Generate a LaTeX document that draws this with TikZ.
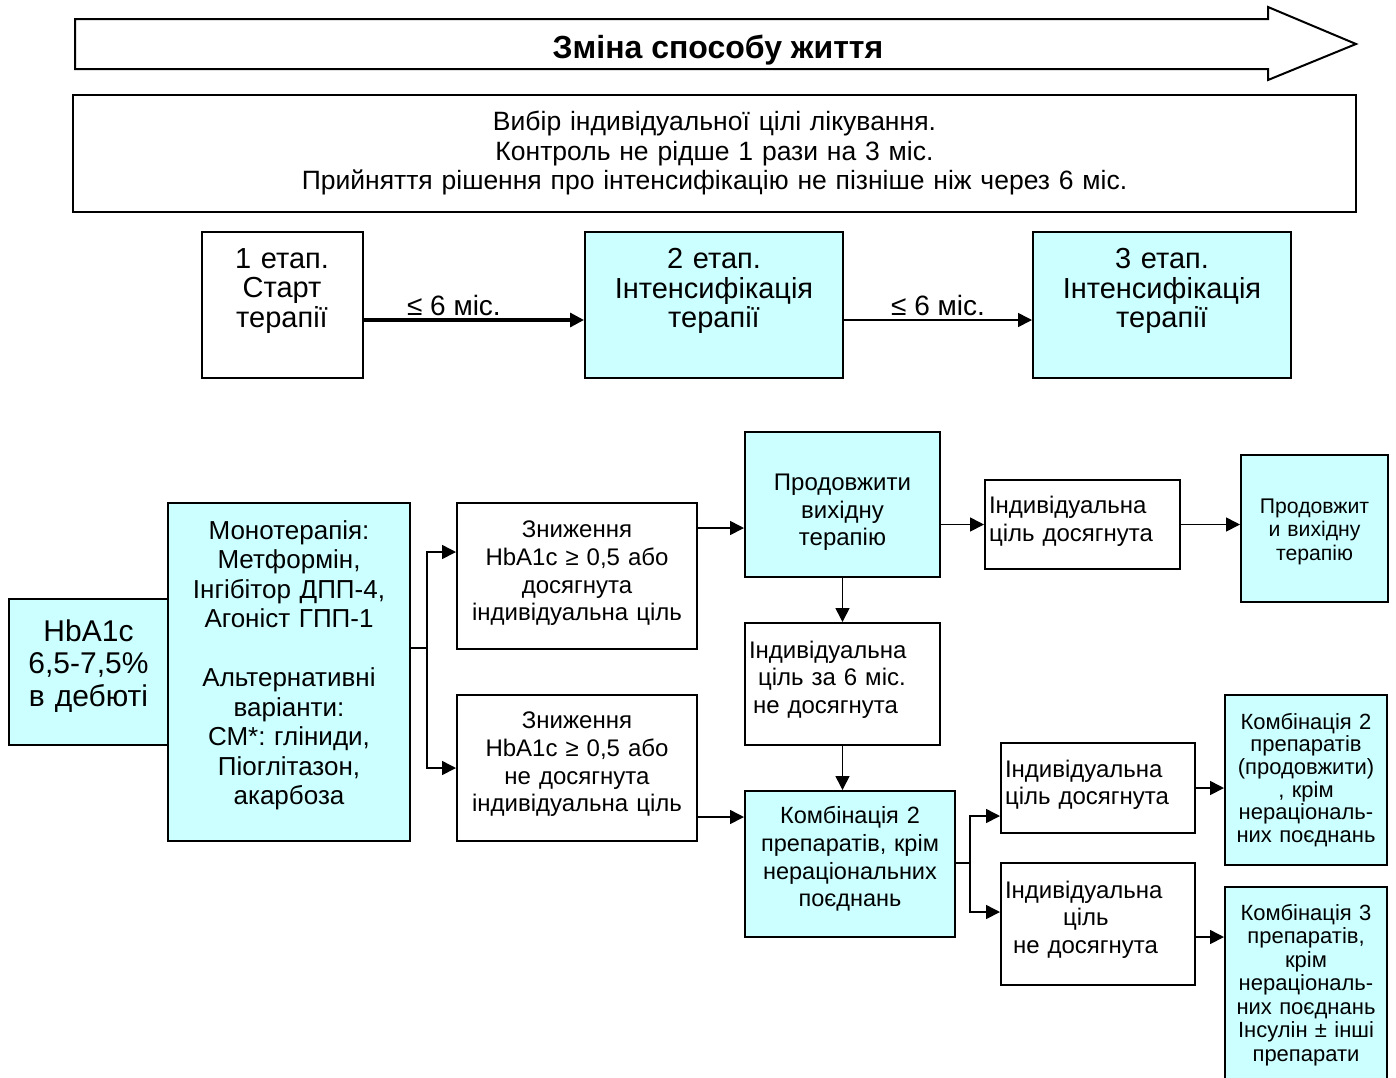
\documentclass[tikz,border=0pt]{standalone}
\usepackage{fontspec}
\setmainfont{Liberation Sans}
\frenchspacing
\usetikzlibrary{arrows.meta}
\definecolor{boxcyan}{HTML}{CCFFFF}
\begin{document}
\begin{tikzpicture}[x=0.5pt, y=-0.5pt,
        box/.style={draw, line width=1pt, inner sep=2pt, align=center},
        cbox/.style={box, fill=boxcyan},
        link/.style={line width=0.8pt, -{Triangle[length=7pt, width=7pt]}},
        fsize/.style 2 args={font=\fontsize{#1}{#2}\selectfont},
        nudge/.style={execute at end node={\endgraf\vspace*{#1}}}]
        \useasboundingbox (0,0) rectangle (1396,1077);
        \draw[line width=1pt] (75,19) -- (1268,19) -- (1268,7) -- (1356,44) -- (1268,80) -- (1268,69) -- (75,69) -- cycle;
        \node[font=\fontsize{16}{18}\selectfont\bfseries] (life) at (718,50) {Зміна способу життя};
        \node[box, fsize={13.25}{14.75}, text width=637.5pt, minimum height=58.5pt] (goal) at (714.5,153.5)
            {Вибір індивідуальної цілі лікування.\\Контроль не рідше 1 рази на 3 міс.\\Прийняття рішення про інтенсифікацію не пізніше ніж через 6 міс.};
        \node[box, fsize={14.5}{14.75}, text width=76.5pt, minimum height=73pt, nudge=14pt] (s1) at (282,305) {1 етап.\\Старт\\терапії};
        \node[cbox, fsize={14.5}{14.75}, text width=125pt, minimum height=73pt, nudge=14pt] (s2) at (714,305) {2 етап.\\Інтенсифікація\\терапії};
        \node[cbox, fsize={14.5}{14.75}, text width=125pt, minimum height=73pt, nudge=14pt] (s3) at (1162,305) {3 етап.\\Інтенсифікація\\терапії};
        \foreach \from/\to/\wid/\p in {s1/s2/1.6pt/0.41, s2/s3/0.8pt/0.5}
            \draw[link, line width=\wid] ([yshift=-7.5pt]\from.east) -- node[above, pos=\p, inner sep=1.5pt, fsize={14}{16}] {≤ 6 міс.} ([yshift=-7.5pt]\to.west);

        \node[cbox, fsize={15}{16.25}, text width=76pt, minimum height=73pt, nudge=6pt] (hba) at (88.5,672) {HbA1c\\6,5-7,5\%\\в дебюті};
        \node[cbox, fsize={13}{14.75}, text width=117pt, minimum height=169pt, nudge=6.5pt] (mono) at (289,672)
            {Монотерапія:\\Метформін,\\Інгібітор ДПП-4,\\Агоніст ГПП-1\\[14.75pt]Альтернативні\\варіанти:\\СМ*: гліниди,\\Піоглітазон,\\акарбоза};
        \node[box, fsize={12}{13.85}, text width=116pt, minimum height=73pt, nudge=2.5pt] (red1) at (577,576) {Зниження\\HbA1c ≥ 0,5 або\\досягнута\\індивідуальна ціль};
        \node[box, fsize={12}{13.85}, text width=116pt, minimum height=73pt, nudge=3.5pt] (red2) at (577,768) {Зниження\\HbA1c ≥ 0,5 або\\не досягнута\\індивідуальна ціль};
        \node[cbox, fsize={12}{13.75}, text width=93.5pt, minimum height=72.5pt, nudge=-8pt] (cont) at (842.5,504.5) {Продовжити\\вихідну\\терапію};
        \node[box, fsize={12}{14}, text width=93.5pt, minimum height=44.5pt, align=left, nudge=3.5pt] (ach1) at (1082.5,524.5) {Індивідуальна\\ціль досягнута};
        \node[cbox, fsize={10.6}{11.75}, text width=69.5pt, minimum height=73.5pt, nudge=-3pt] (right1) at (1314.5,528.5) {Продовжит\\и вихідну\\терапію};
        \node[box, fsize={12}{13.75}, text width=93.5pt, minimum height=61pt, align=left, nudge=4.5pt] (notach) at (842.5,684)
            {Індивідуальна\\\hspace*{4.5pt}ціль за 6 міс.\\\hspace*{2pt}не досягнута};
        \node[cbox, fsize={11.75}{13.85}, text width=101pt, minimum height=73pt, nudge=5pt] (comb2) at (850,864) {Комбінація 2\\препаратів, крім\\нераціональних\\поєднань};
        \node[box, fsize={12}{13.5}, text width=93pt, minimum height=45pt, align=left, nudge=3pt] (ach2) at (1098,788) {Індивідуальна\\ціль досягнута};
        \node[box, fsize={12}{13.75}, text width=93pt, minimum height=61pt, align=left, nudge=4.5pt] (fail2) at (1098,924)
            {Індивідуальна\\\hspace*{29pt}ціль\\\hspace*{4pt}не досягнута};
        \node[cbox, fsize={11}{11.3}, text width=77pt, minimum height=85pt] (right2) at (1306,780)
            {Комбінація 2\\препаратів\\(продовжити)\\, крім\\нераціональ-\\них поєднань};
        \node[cbox, fsize={11}{11.75}, text width=77pt, minimum height=96pt, nudge=-2pt] (right3) at (1306,983)
            {Комбінація 3\\препаратів,\\крім\\нераціональ-\\них поєднань\\Інсулін ± інші\\препарати};

        \coordinate (j1) at (427,648);
        \coordinate (j2) at (970,863);
        \draw[line width=0.8pt] (mono.east |- j1) -- (j1);
        \draw[link] (j1) |- ([yshift=12pt]red1.west);
        \draw[link] (j1) |- (red2.west);
        \draw[link] ([yshift=24pt]red1.east) -- ([yshift=24pt]red1.east -| cont.west);
        \draw[link] (cont.east |- ach1.west) -- (ach1.west);
        \draw[link] (ach1.east) -- (ach1.east -| right1.west);
        \draw[link] (cont.south) -- (notach.north);
        \draw[link] (notach.south) -- (notach.south |- comb2.north);
        \draw[link] ([yshift=-24.5pt]red2.east) -- ([yshift=-24.5pt]red2.east -| comb2.west);
        \draw[line width=0.8pt] (comb2.east |- j2) -- (j2);
        \draw[link] (j2) |- ([yshift=-14pt]ach2.west);
        \draw[link] (j2) |- ([yshift=6pt]fail2.west);
        \draw[link] (ach2.east) -- (ach2.east -| right2.west);
        \draw[link] ([yshift=-6.5pt]fail2.east) -- ([yshift=-6.5pt]fail2.east -| right3.west);
\end{tikzpicture}
\end{document}
